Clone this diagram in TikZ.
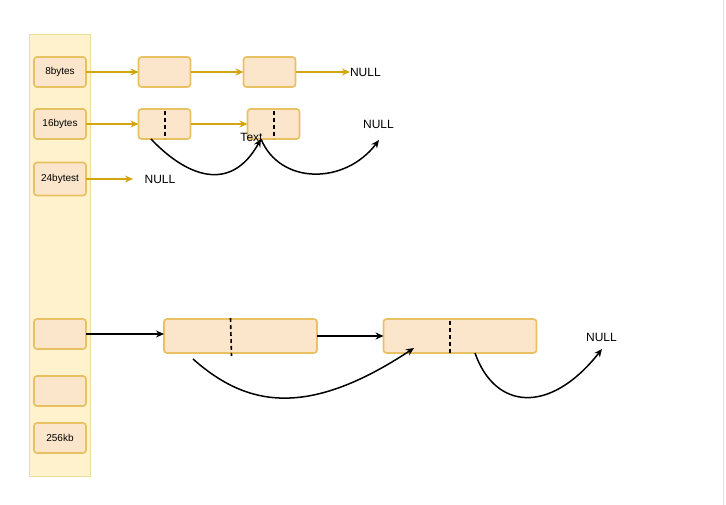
\documentclass[tikz,border=0pt]{standalone}
\usepackage{fontspec}
\setmainfont{Liberation Sans}
\usetikzlibrary{arrows.meta}
\definecolor{colfill}{HTML}{FFF2CC}
\definecolor{colline}{HTML}{F0DC9C}
\definecolor{boxfill}{HTML}{FCE6CB}
\definecolor{boxline}{HTML}{E9C062}
\definecolor{gold}{HTML}{D5A50F}
\tikzset{
  every node/.style={inner sep=0pt,outer sep=0pt},
  cell/.style={draw=boxline,fill=boxfill,line width=1.7pt,rounded corners=3pt,minimum width=52pt,minimum height=30pt,font=\fontsize{10}{12}\selectfont},
  bigcell/.style={cell,minimum width=153pt,minimum height=34pt},
  goldarrow/.style={draw=gold,line width=1.5pt,-{Stealth[length=8pt,width=7pt]}},
  blackarrow/.style={draw=black,line width=1.5pt,-{Stealth[length=8pt,width=7pt]}},
  divider/.style={draw=black,line width=1.6pt,dash pattern=on 4pt off 3pt},
  lbl/.style={font=\fontsize{12}{14}\selectfont},
}
\begin{document}
\begin{tikzpicture}[x=1pt,y=-1pt]
\useasboundingbox (0,0) rectangle (726,505);
\fill[white] (0,0) rectangle (726,505);
\draw[gray!25,line width=1pt] (723.5,0) -- (723.5,505);
% column
\draw[draw=colline,fill=colfill,line width=1pt] (29,35) rectangle (90,476);
\node[cell] (c8) at (60,72) {8bytes};
\node[cell] (c16) at (60,124) {16bytes};
\node[cell,minimum height=33pt] (c24) at (60,179) {24bytest};
\node[cell] (c4) at (60,334) {};
\node[cell] (c5) at (60,391) {};
\node[cell] (c256) at (60,438) {256kb};
% row 1
\node[cell] (a1) at (164.5,72) {};
\node[cell] (a2) at (269.5,72) {};
\node[lbl,anchor=west] (n1) at (350,72) {NULL};
\draw[goldarrow] (c8.east) -- (a1.west);
\draw[goldarrow] (a1.east) -- (a2.west);
\draw[goldarrow] (a2.east) -- (n1.west);
% row 2
\node[cell] (b1) at (164.5,124) {};
\node[cell] (b2) at (273.5,124) {};
\draw[divider] (165,111) -- (165,139);
\draw[divider] (274,111) -- (274,139);
\node[lbl] (n2) at (378.5,124) {NULL};
\node[lbl] (tx) at (251.5,137) {Text};
\draw[goldarrow] (c16.east) -- (b1.west);
\draw[goldarrow] (b1.east) -- (b2.west);
\coordinate (p1) at (151,139);
\coordinate (p2) at (261,139);
\coordinate (p3) at (379,140);
\draw[blackarrow] (p1) .. controls (185,175) and (230,195) .. (p2);
\draw[blackarrow] (p2) .. controls (280,185) and (345,185) .. (p3);
% row 3
\node[lbl] (n3) at (160,179) {NULL};
\coordinate (r3) at (133,179);
\draw[goldarrow] (c24.east) -- (r3);
% bottom lists
\node[bigcell] (d1) at (240.5,336) {};
\node[bigcell] (d2) at (460,336) {};
\draw[divider] (230.5,318) -- (231.5,356);
\draw[divider] (450,321) -- (450,355);
\node[lbl] (n4) at (601.5,337) {NULL};
\draw[blackarrow] (c4.east) -- (c4.east -| d1.west);
\draw[blackarrow] (d1.east) -- (d2.west);
\coordinate (q1) at (193,359);
\coordinate (q2) at (414,348);
\coordinate (q3) at (475,353);
\coordinate (q4) at (602,349);
\draw[blackarrow] (q1) .. controls (245,405) and (305,420) .. (q2);
\draw[blackarrow] (q3) .. controls (495,410) and (550,415) .. (q4);
\end{tikzpicture}
\end{document}
